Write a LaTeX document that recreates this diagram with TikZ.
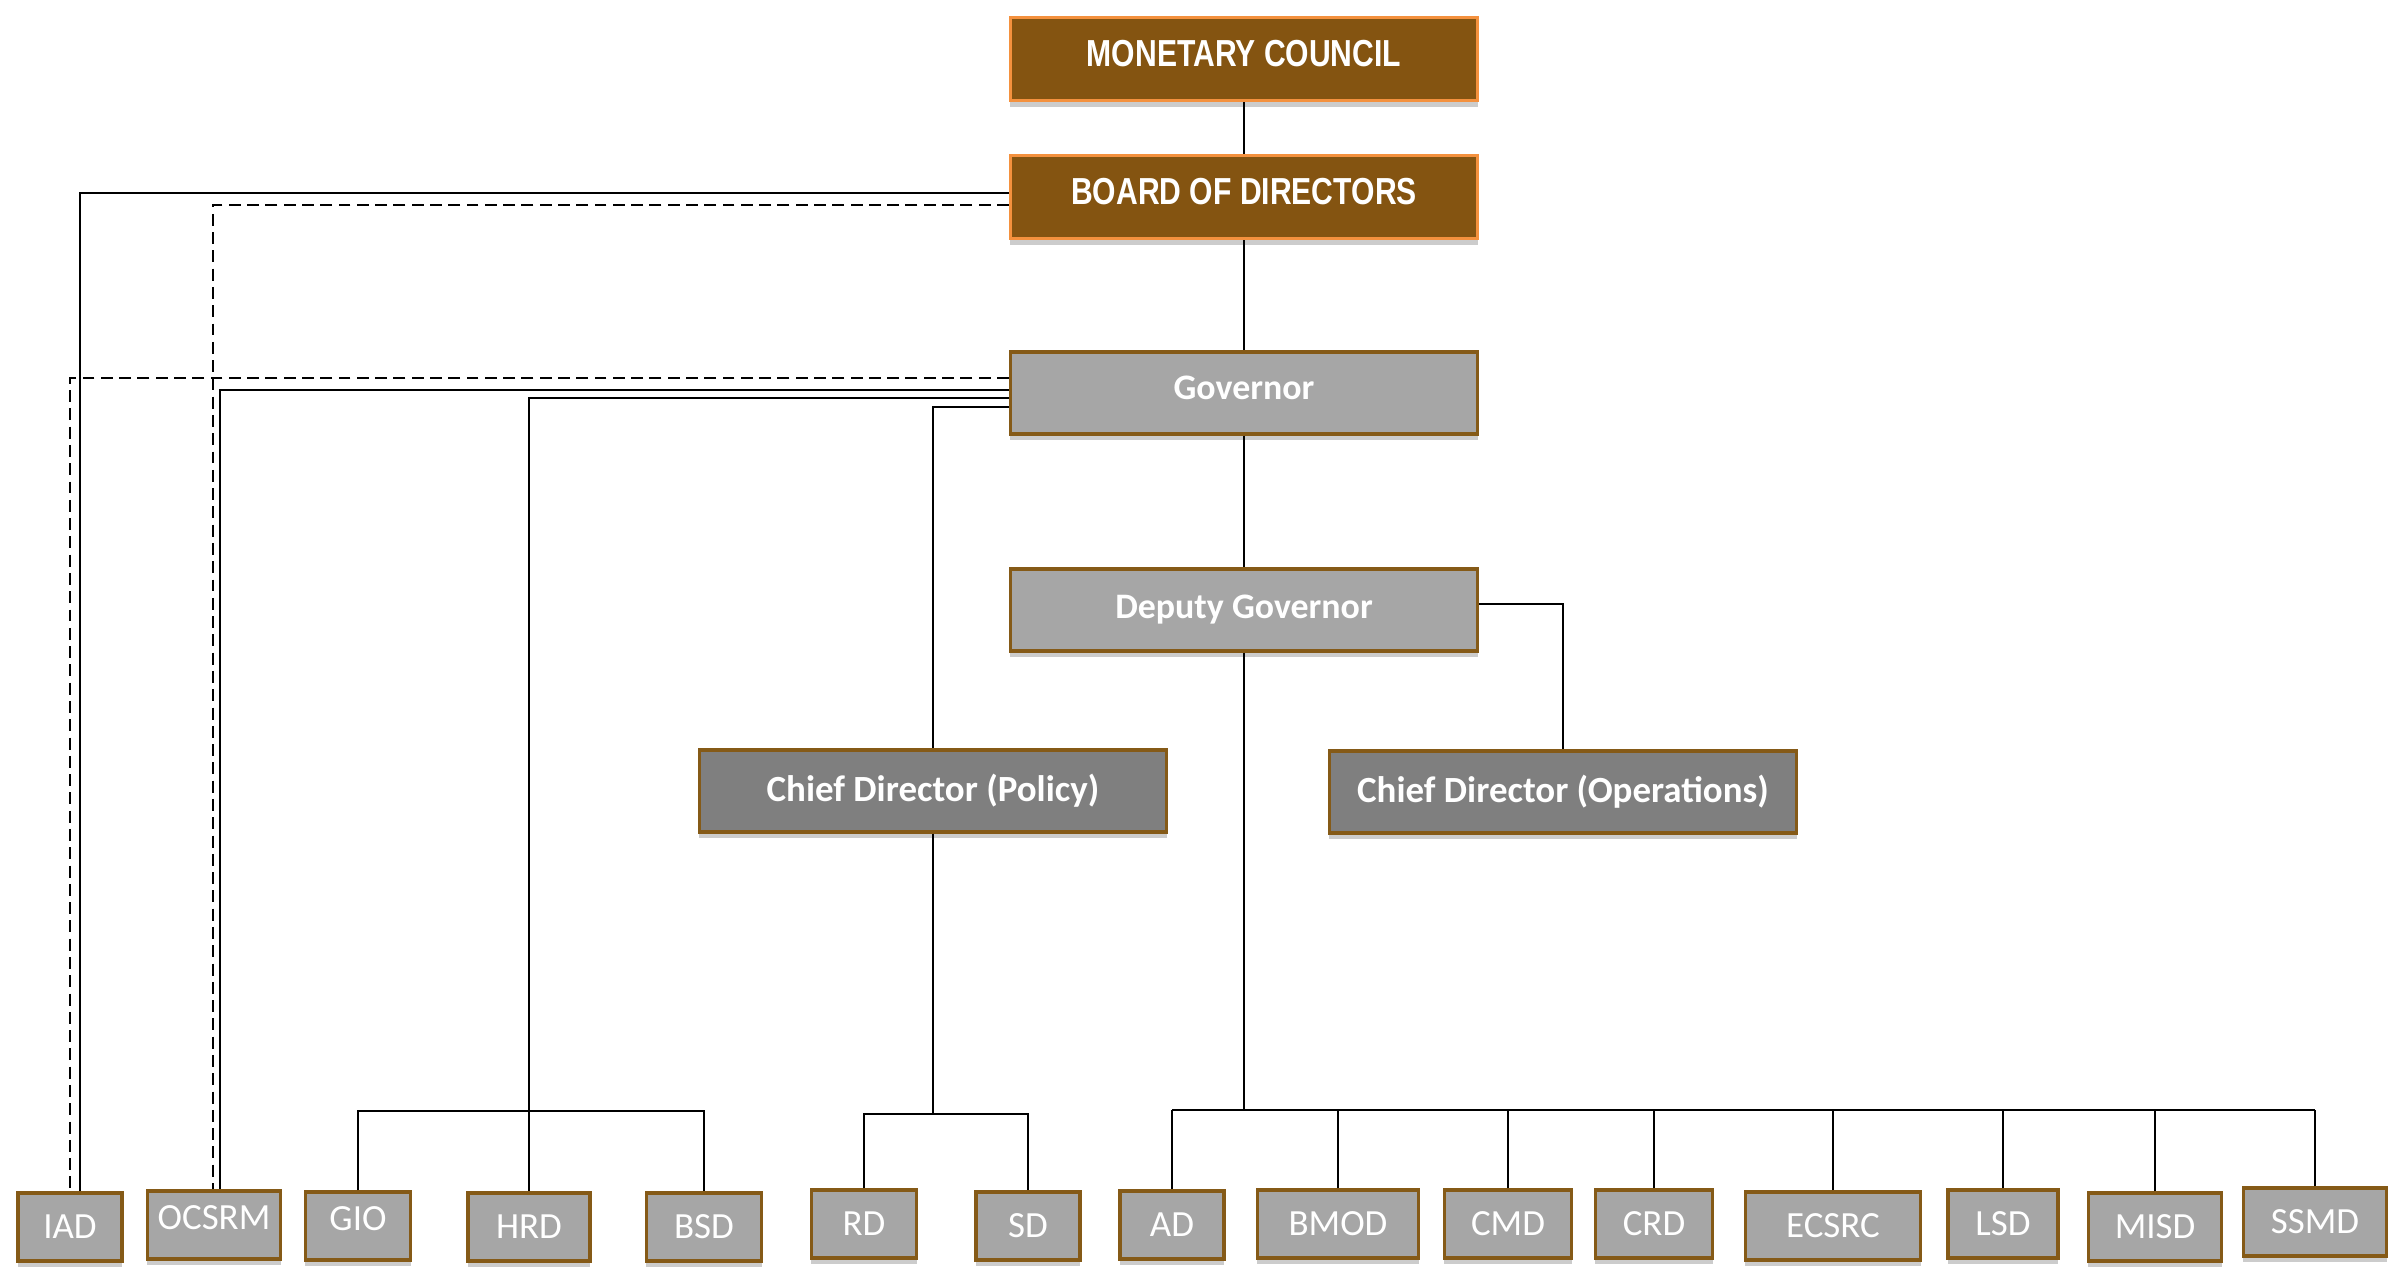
\documentclass[tikz,border=0pt]{standalone}
\usepackage{fontspec}
\setmainfont{Carlito}
\newfontfamily\narrowfont{Liberation Sans}[FakeStretch=0.8]
\usetikzlibrary{shadows}

\definecolor{boardbrown}{HTML}{845411}
\definecolor{boardedge}{HTML}{F4913E}
\definecolor{unitgray}{HTML}{A6A6A6}
\definecolor{chiefgray}{HTML}{7F7F7F}
\definecolor{unitedge}{HTML}{855A17}

\tikzset{
  boxshade/.style={drop shadow={shadow xshift=0pt, shadow yshift=-1.8pt, opacity=.2, fill=black}},
  boardbox/.style={boxshade, draw=boardedge, fill=boardbrown, line width=0.9pt, text=white,
    minimum width=4.67cm, minimum height=0.83cm, text depth=0.12cm,
    font=\narrowfont\bfseries\fontsize{10.7pt}{12pt}\selectfont},
  headbox/.style={boxshade, draw=unitedge, fill=unitgray, line width=0.9pt, text=white,
    minimum width=4.67cm, minimum height=0.82cm, font=\bfseries\fontsize{10.2pt}{12pt}\selectfont},
  chiefbox/.style={headbox, fill=chiefgray, font=\bfseries\fontsize{10.5pt}{12pt}\selectfont},
  unitbox/.style={boxshade, draw=unitedge, fill=unitgray, line width=0.9pt, text=white,
    minimum height=0.68cm, inner sep=0pt, font=\fontsize{10.5pt}{12pt}\selectfont},
  raised/.style={text depth=0.14cm},
  link/.style={line width=0.6pt},
  dotlink/.style={line width=0.6pt, dash pattern=on 3.4pt off 1.8pt}
}

\begin{document}
\begin{tikzpicture}[x=0.01cm, y=-0.01cm]
  \useasboundingbox (0,0) rectangle (2391,1271);

% top of the chart
\node[boardbox] (mc)  at (1244,59)  {MONETARY COUNCIL};
\node[boardbox] (bod) at (1244,197) {BOARD OF DIRECTORS};
\node[headbox, text depth=0.1cm] (gov) at (1244,393) {Governor};
\node[headbox]  (dg)  at (1244,610) {Deputy Governor};
\node[chiefbox] (cdp) at (933,791)  {Chief Director (Policy)};
\node[chiefbox] (cdo) at (1563,792) {Chief Director (Operations)};

% departments
\node[unitbox, minimum width=1.04cm] (iad)   at (70,1227)   {IAD};
\node[unitbox, minimum width=1.33cm, raised] (ocsrm) at (214,1225) {OCSRM};
\node[unitbox, minimum width=1.05cm, raised] (gio)   at (358,1226) {GIO};
\node[unitbox, minimum width=1.22cm] (hrd)   at (529,1227)  {HRD};
\node[unitbox, minimum width=1.15cm] (bsd)   at (704,1227)  {BSD};
\node[unitbox, minimum width=1.05cm] (rd)    at (864,1224)  {RD};
\node[unitbox, minimum width=1.04cm] (sd)    at (1028,1226) {SD};
\node[unitbox, minimum width=1.04cm] (ad)    at (1172,1225) {AD};
\node[unitbox, minimum width=1.61cm] (bmod)  at (1338,1224) {BMOD};
\node[unitbox, minimum width=1.27cm] (cmd)   at (1508,1224) {CMD};
\node[unitbox, minimum width=1.17cm] (crd)   at (1654,1224) {CRD};
\node[unitbox, minimum width=1.75cm] (ecsrc) at (1833,1226) {ECSRC};
\node[unitbox, minimum width=1.10cm] (lsd)   at (2003,1224) {LSD};
\node[unitbox, minimum width=1.33cm] (misd)  at (2155,1227) {MISD};
\node[unitbox, minimum width=1.43cm] (ssmd)  at (2315,1222) {SSMD};

% main chain
\draw[link] (mc) -- (bod);
\draw[link] (bod) -- (gov);
\draw[link] (gov) -- (dg);
\draw[link] (dg.east |- 0,604) -| (cdo);

% lines on the left
\draw[link]    (bod.west |- 0,193) -| ([xshift=0.1cm]iad.north);
\draw[dotlink] (bod.west |- 0,205) -| ([xshift=-0.01cm]ocsrm.north);
\draw[dotlink] (gov.west |- 0,378) -| (iad.north);
\draw[link]    (gov.west |- 0,390) -| ([xshift=0.06cm]ocsrm.north);
\draw[link]    (gov.west |- 0,398) -| (hrd.north);
\draw[link]    (gov.west |- 0,407) -| (cdp.north);

% GIO, HRD, BSD
\draw[link] (gio.north) -- (gio |- 0,1111) -- (bsd |- 0,1111) -- (bsd.north);

% policy side
\draw[link] (cdp.south) -- (cdp |- 0,1114);
\draw[link] (rd.north) -- (rd |- 0,1114) -- (sd |- 0,1114) -- (sd.north);

% operations side
\draw[link] (dg.south) -- (dg |- 0,1110);
\draw[link] (ad |- 0,1110) -- (ssmd |- 0,1110);
\foreach \u in {ad,bmod,cmd,crd,ecsrc,lsd,misd,ssmd}
  \draw[link] (\u.north) -- (\u |- 0,1110);
\end{tikzpicture}
\end{document}
